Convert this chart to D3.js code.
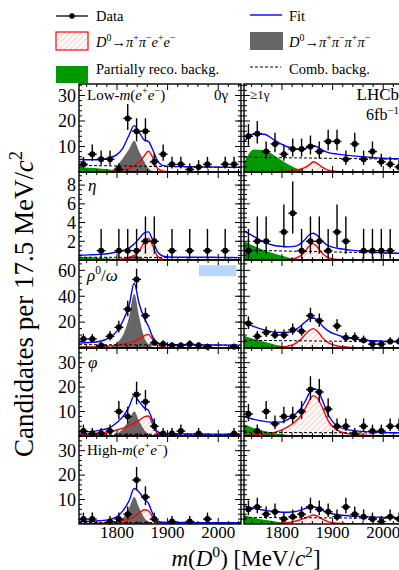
<!DOCTYPE html>
<html><head><meta charset="utf-8">
<script src="https://cdn.jsdelivr.net/npm/d3@7"></script>
<style>
body{margin:0;background:#fff;}
svg{display:block;}
text{font-family:"Liberation Serif","Times New Roman","DejaVu Serif",serif;fill:#000;}
</style>
</head><body>
<svg id="c" width="399" height="570"></svg>
<script>
// ---------- DATA ----------
const binCenters = [1733.75,1751.25,1768.75,1786.25,1803.75,1821.25,1838.75,1856.25,1873.75,1891.25,1908.75,1926.25,1943.75,1961.25,1978.75,1996.25,2013.75,2031.25];
const binHalfWidth = 8.75;
const xTickLabels = [1800, 1900, 2000];

// data counts per bin (null = empty bin)
const dataLow0g  = [3,7,5,5,1,21,16,16,4,7,3,3,1,2,3,null,3,3];
const dataLow1g  = [14,15,8,11,7,9,9,10,8,12,12,5,11,5,8,4,3,2];
const dataEta0g  = [null,null,1,null,1,1,1,2,2,null,1,null,1,null,1,null,1,null];
const dataEta1g  = [1,2,2,null,3,5,1,2,2,1,3,2,null,1,1,1,1,null];
const dataRho0g  = [7,7,2,9,16,30,53,25,4,3,2,2,3,2,1,null,null,1];
const dataRho1g  = [19,9,12,10,10,14,13,25,21,null,17,8,8,6,3,3,5,5];
const dataPhi0g  = [2,1,1,2,10,8,17,14,4,1,1,2,null,1,null,null,null,1];
const dataPhi1g  = [9,2,10,5,8,8,10,19,18,11,4,4,1,4,2,2,4,4];
const dataHigh0g = [2,2,null,1,2,4,18,11,2,null,1,null,1,null,2,null,null,null];
const dataHigh1g = [6,7,4,5,2,3,4,7,6,5,3,7,4,3,2,1,3,2];

// fit curves sampled at fitX
const fitX  = [1725,1745,1765,1785,1800,1812,1824,1834,1844,1854,1862,1870,1880,1892,1910,1935,1965,2000,2045];
const combX = [1725,2045];

const blueLow0g  = [5.0,4.8,4.8,5.6,6.8,9.5,14.5,18.2,15.5,12.5,12.0,9.0,4.5,2.5,2.2,2.1,2.0,1.9,1.8];
const redLow0g   = [0,0,0.05,0.15,0.4,0.8,1.4,2.3,3.8,6.3,8.2,6.0,1.5,0.3,0,0,0,0,0];
const greyLow0g  = [0,0,0,0.2,2.5,5.5,9,12.3,8,4,1.5,0.4,0,0,0,0,0,0,0];
const greenLow0g = [2.0,1.7,1.4,1.0,0.6,0.35,0.15,0.05,0,0,0,0,0,0,0,0,0,0,0];
const combLow0g  = [2.6,1.7];

const blueLow1g  = [12,15,14.8,12.5,10.8,9.8,9.2,8.8,9.0,10,10.3,9.8,8.6,7.6,7,6.4,5.9,5.4,5.1];
const redLow1g   = [0,0,0,0,0.1,0.3,0.6,1.0,1.6,2.8,4.0,3.3,1.8,0.7,0.2,0,0,0,0];
const greenLow1g = [3.8,8.8,8.5,6.5,4.5,3,1.8,1,0.5,0.2,0.05,0,0,0,0,0,0,0,0];
const combLow1g  = [5.8,5.0];

const blueEta0g  = [0.5,0.55,0.6,0.7,0.85,1.0,1.3,1.7,2.3,2.9,3.0,2.2,0.9,0.4,0.3,0.3,0.3,0.28,0.25];
const redEta0g   = [0,0,0,0.02,0.05,0.1,0.25,0.5,1.0,1.9,2.3,1.6,0.4,0.05,0,0,0,0,0];
const greyEta0g  = [0,0,0,0,0.05,0.15,0.35,0.5,0.35,0.15,0.05,0,0,0,0,0,0,0,0];
const greenEta0g = [0.35,0.3,0.22,0.15,0.08,0.04,0,0,0,0,0,0,0,0,0,0,0,0,0];
const combEta0g  = [0.3,0.25];

const blueEta1g  = [3.1,2.5,1.9,1.55,1.45,1.4,1.45,1.65,2.1,2.7,2.85,2.6,2.0,1.5,1.25,1.05,0.9,0.78,0.7];
const redEta1g   = [0,0,0,0,0.02,0.05,0.15,0.35,0.8,1.5,1.75,1.4,0.7,0.25,0.05,0,0,0,0];
const greenEta1g = [2.0,1.5,1.05,0.7,0.45,0.28,0.15,0.07,0.02,0,0,0,0,0,0,0,0,0,0];
const combEta1g  = [1.05,0.7];

const blueRho0g  = [3.8,4.2,5,8,13,21,33,50,34,23,17,9,4,2.8,2.6,2.5,2.4,2.3,2.2];
const redRho0g   = [0.5,0.8,1.1,1.6,2.2,3,4,5.2,7,9.5,10.5,7,2.5,0.7,0.1,0,0,0,0];
const greyRho0g  = [0,0,0,0.5,4,10,24,42,24,8,3,1,0.2,0,0,0,0,0,0];
const greenRho0g = [1.5,1.1,0.75,0.45,0.25,0.12,0.05,0,0,0,0,0,0,0,0,0,0,0,0];
const combRho0g  = [2.6,2.1];

const blueRho1g  = [19.5,16.5,14,12.3,12,12.2,13.5,16,19.5,22.5,23.2,21.5,17,13,10,7.5,6,5.3,4.9];
const redRho1g   = [0,0,0,0.3,0.8,1.5,3,5.5,9.5,13.5,15,13,8,4,1.5,0.5,0.2,0,0];
const greenRho1g = [9.5,7,4.8,2.8,1.6,0.9,0.4,0.15,0,0,0,0,0,0,0,0,0,0,0];
const combRho1g  = [6.0,4.7];

const bluePhi0g  = [1.6,1.8,2.3,3.3,5.5,8,12,16.5,14,11.5,10.5,6.5,1.8,1,0.9,0.85,0.8,0.75,0.7];
const redPhi0g   = [0.5,0.8,1.2,1.8,2.5,3.2,4.2,5.2,6.5,7.8,8.2,5,1,0.2,0,0,0,0,0];
const greyPhi0g  = [0,0,0,0,1,3,6.5,10,6,2.5,1,0.3,0,0,0,0,0,0,0];
const greenPhi0g = [0.6,0.4,0.2,0.08,0,0,0,0,0,0,0,0,0,0,0,0,0,0,0];
const combPhi0g  = [0.8,0.6];

const bluePhi1g  = [7.9,6.8,6,5.6,5.8,6.8,8.5,10.5,13.5,17.5,19.5,18.8,14.5,8.5,4,2.4,1.8,1.5,1.3];
const redPhi1g   = [0.2,0.4,0.8,1.5,2.5,3.8,5.5,7.5,10.5,14.5,16.5,15.5,11.5,6,2.3,0.8,0.3,0.1,0];
const greenPhi1g = [4.8,3.2,2,1.2,0.7,0.4,0.2,0.05,0,0,0,0,0,0,0,0,0,0,0];
const combPhi1g  = [1.5,1.2];

const blueHigh0g  = [1,1.1,1.3,1.8,3,5.5,9.5,14.5,13,10,8.5,4.5,1.3,0.7,0.6,0.6,0.55,0.5,0.5];
const redHigh0g   = [0.1,0.2,0.3,0.6,1,1.5,2,3,4.5,5.8,5.5,3,0.8,0.1,0,0,0,0,0];
const greyHigh0g  = [0,0,0,0,0.5,2.5,6.5,11,6.5,2.5,1,0.3,0,0,0,0,0,0,0];
const greenHigh0g = [0.4,0.25,0.12,0.05,0,0,0,0,0,0,0,0,0,0,0,0,0,0,0];
const combHigh0g  = [0.6,0.5];

const blueHigh1g  = [7.5,6.4,5.6,5.1,4.8,4.8,5,5.5,6.2,6.9,7.1,6.6,5.6,4.6,3.8,3.3,3,2.7,2.5];
const redHigh1g   = [0,0,0,0.1,0.3,0.6,1,1.6,2.3,3.2,3.7,3.2,2,0.9,0.3,0.1,0,0,0];
const greenHigh1g = [3.7,2.6,1.7,1.1,0.6,0.35,0.15,0.05,0,0,0,0,0,0,0,0,0,0,0];
const combHigh1g  = [2.7,2.3];

// y-axis scale settings per row
const rowYMax   = [34.5, 9.4, 68, 36, 36];
const rowYMajor = [10, 2, 20, 10, 10];
const rowYMinor = [2, 0.5, 5, 2, 2];

// ---------- LAYOUT ----------
const svg = d3.select('#c');
const xDomain = [1725, 2045];
const colX = [[79, 241], [244, 406]];
const rowTop = [84, 172, 260, 348, 436];
const rowH = 88;
const C = {blue:'#0000ff', red:'#ff0000', grey:'#666666', green:'#009900'};

const defs = svg.append('defs');
const pat = defs.append('pattern').attr('id','hatch').attr('patternUnits','userSpaceOnUse')
  .attr('width',4).attr('height',4).attr('patternTransform','rotate(45)');
pat.append('line').attr('x1',0).attr('y1',0).attr('x2',0).attr('y2',4)
  .attr('stroke',C.red).attr('stroke-width',0.8).attr('stroke-opacity',0.55);

function rich(g, x, y, parts, size, anchor, extra) {
  const t = g.append('text').attr('x',x).attr('y',y).attr('font-size',size)
    .attr('text-anchor',anchor||'start');
  if (extra) extra(t);
  let shift = 0;
  parts.forEach(p => {
    const target = p.sup ? -size*0.4 : 0;
    const ts = t.append('tspan').text(p.t).attr('dy', target - shift);
    shift = target;
    if (p.sup) ts.attr('font-size', size*0.68);
    if (p.i) ts.attr('font-style','italic');
  });
  return t;
}

const panels = [
  {row:0,col:0,data:dataLow0g, blue:blueLow0g, red:redLow0g, grey:greyLow0g, green:greenLow0g, comb:combLow0g},
  {row:0,col:1,data:dataLow1g, blue:blueLow1g, red:redLow1g, grey:null, green:greenLow1g, comb:combLow1g},
  {row:1,col:0,data:dataEta0g, blue:blueEta0g, red:redEta0g, grey:greyEta0g, green:greenEta0g, comb:combEta0g},
  {row:1,col:1,data:dataEta1g, blue:blueEta1g, red:redEta1g, grey:null, green:greenEta1g, comb:combEta1g},
  {row:2,col:0,data:dataRho0g, blue:blueRho0g, red:redRho0g, grey:greyRho0g, green:greenRho0g, comb:combRho0g},
  {row:2,col:1,data:dataRho1g, blue:blueRho1g, red:redRho1g, grey:null, green:greenRho1g, comb:combRho1g},
  {row:3,col:0,data:dataPhi0g, blue:bluePhi0g, red:redPhi0g, grey:greyPhi0g, green:greenPhi0g, comb:combPhi0g},
  {row:3,col:1,data:dataPhi1g, blue:bluePhi1g, red:redPhi1g, grey:null, green:greenPhi1g, comb:combPhi1g},
  {row:4,col:0,data:dataHigh0g, blue:blueHigh0g, red:redHigh0g, grey:greyHigh0g, green:greenHigh0g, comb:combHigh0g},
  {row:4,col:1,data:dataHigh1g, blue:blueHigh1g, red:redHigh1g, grey:null, green:greenHigh1g, comb:combHigh1g}
];

const scales = {};
panels.forEach((p, idx) => {
  const [x0, x1] = colX[p.col];
  const y0 = rowTop[p.row], y1 = y0 + rowH;
  const x = d3.scaleLinear().domain(xDomain).range([x0, x1]);
  const y = d3.scaleLinear().domain([0, rowYMax[p.row]]).range([y1, y0]);
  scales[p.row+'_'+p.col] = {x, y};
  defs.append('clipPath').attr('id','clip'+idx).append('rect')
    .attr('x',x0).attr('y',y0).attr('width',x1-x0).attr('height',rowH);
  const g = svg.append('g').attr('clip-path',`url(#clip${idx})`);
  const area = d3.area().x((d,i)=>x(fitX[i])).y0(y(0)).y1(d=>y(d)).curve(d3.curveMonotoneX);
  const line = d3.line().x((d,i)=>x(fitX[i])).y(d=>y(d)).curve(d3.curveMonotoneX);

  g.append('path').attr('d', area(p.green)).attr('fill', C.green);
  if (p.grey) g.append('path').attr('d', area(p.grey)).attr('fill', C.grey);
  g.append('path').attr('d', area(p.red)).attr('fill','url(#hatch)');
  g.append('path').attr('d', line(p.red)).attr('fill','none').attr('stroke',C.red).attr('stroke-width',1.4);
  g.append('path').attr('d', d3.line().x((d,i)=>x(combX[i])).y(d=>y(d))(p.comb))
    .attr('fill','none').attr('stroke','#000').attr('stroke-width',1).attr('stroke-dasharray','3,2');
  g.append('path').attr('d', line(p.blue)).attr('fill','none').attr('stroke',C.blue).attr('stroke-width',1.4);

  // data points with Poisson (Garwood-approx) error bars
  const pts = p.data.map((n,i)=>({n, c:binCenters[i]})).filter(d=>d.n!==null);
  const dg = svg.append('g');
  pts.forEach(d => {
    const lo = d.n - Math.sqrt(d.n - 0.25), hi = d.n + 1 + Math.sqrt(d.n + 0.75);
    dg.append('line').attr('x1',x(d.c)).attr('x2',x(d.c)).attr('y1',y(lo)).attr('y2',y(hi))
      .attr('stroke','#000').attr('stroke-width',1.4);
    dg.append('line').attr('x1',x(d.c-binHalfWidth)).attr('x2',x(d.c+binHalfWidth)).attr('y1',y(d.n)).attr('y2',y(d.n))
      .attr('stroke','#000').attr('stroke-width',1.4);
    dg.append('circle').attr('cx',x(d.c)).attr('cy',y(d.n)).attr('r',3).attr('fill','#000');
  });

  // frame and ticks
  const fg = svg.append('g').attr('stroke','#000').attr('fill','none');
  fg.append('rect').attr('x',x0).attr('y',y0).attr('width',x1-x0).attr('height',rowH).attr('stroke-width',1.4);
  const xMinor = d3.range(1740, 2045, 20), xMajor = d3.range(1800, 2045, 100);
  xMinor.forEach(v => {
    const len = xMajor.includes(v) ? 6 : 3;
    fg.append('line').attr('x1',x(v)).attr('x2',x(v)).attr('y1',y1).attr('y2',y1-len).attr('stroke-width',1);
    fg.append('line').attr('x1',x(v)).attr('x2',x(v)).attr('y1',y0).attr('y2',y0+len).attr('stroke-width',1);
  });
  const ymax = rowYMax[p.row], ymaj = rowYMajor[p.row], ymin = rowYMinor[p.row];
  d3.range(ymin, ymax, ymin).forEach(v => {
    const isMaj = Math.abs(v/ymaj - Math.round(v/ymaj)) < 1e-6;
    const len = isMaj ? 6 : 3;
    fg.append('line').attr('x1',x0 - (p.col===1 ? len : 0)).attr('x2',x0+len).attr('y1',y(v)).attr('y2',y(v)).attr('stroke-width',1);
    fg.append('line').attr('x1',x1).attr('x2',x1-len).attr('y1',y(v)).attr('y2',y(v)).attr('stroke-width',1);
  });
  if (p.col === 0) {
    d3.range(ymaj, ymax, ymaj).forEach(v => {
      svg.append('text').attr('x', x0-3).attr('y', y(v)).attr('dy','0.35em')
        .attr('text-anchor','end').attr('font-size',18).text(v);
    });
  }
  if (p.row === 4) {
    xTickLabels.forEach(v => {
      svg.append('text').attr('x', x(v)).attr('y', 538).attr('text-anchor','middle')
        .attr('font-size',17).text(v);
    });
  }
});

// light-blue box in rho/omega 0γ panel
{
  const s = scales['2_0'];
  svg.append('rect').attr('x', s.x(1962)).attr('y', s.y(64)).attr('width', s.x(2036)-s.x(1962))
    .attr('height', s.y(55.5)-s.y(64)).attr('fill','#b4d7fb');
}

// panel labels
rich(svg, 87, 100, [{t:'Low-'},{t:'m',i:1},{t:'('},{t:'e',i:1},{t:'+',sup:1},{t:'e',i:1},{t:'−',sup:1},{t:')'}], 15);
svg.append('text').attr('x',214).attr('y',100).attr('font-size',15).text('0γ');
svg.append('text').attr('x',250).attr('y',99).attr('font-size',13).text('≥1γ');
svg.append('text').attr('x',399).attr('y',100).attr('font-size',17).attr('text-anchor','end').text('LHCb');
rich(svg, 399, 120, [{t:'6fb'},{t:'−1',sup:1}], 16, 'end');
svg.append('text').attr('x',88).attr('y',191).attr('font-size',17).attr('font-style','italic').text('η');
rich(svg, 87, 281, [{t:'ρ',i:1},{t:'0',sup:1},{t:'/'},{t:'ω',i:1}], 17);
svg.append('text').attr('x',88).attr('y',368).attr('font-size',17).attr('font-style','italic').text('φ');
rich(svg, 87, 455, [{t:'High-'},{t:'m',i:1},{t:'('},{t:'e',i:1},{t:'+',sup:1},{t:'e',i:1},{t:'−',sup:1},{t:')'}], 15);

// axis titles
rich(svg, 246, 566, [{t:'m',i:1},{t:'('},{t:'D',i:1},{t:'0',sup:1},{t:') [MeV/'},{t:'c',i:1},{t:'2',sup:1},{t:']'}], 23, 'middle');
rich(svg, 0, 0, [{t:'Candidates per 17.5 MeV/'},{t:'c',i:1},{t:'2',sup:1}], 27, 'middle',
  t => t.attr('transform','translate(33,304) rotate(-90)'));

// legend
const lg = svg.append('g');
lg.append('line').attr('x1',56).attr('x2',88).attr('y1',16).attr('y2',16).attr('stroke','#000').attr('stroke-width',1.3);
lg.append('circle').attr('cx',72).attr('cy',16).attr('r',2.8).attr('fill','#000');
lg.append('text').attr('x',96).attr('y',21).attr('font-size',14.5).text('Data');
lg.append('line').attr('x1',250).attr('x2',282).attr('y1',15).attr('y2',15).attr('stroke',C.blue).attr('stroke-width',1.4);
lg.append('text').attr('x',289).attr('y',21).attr('font-size',14.5).text('Fit');
lg.append('rect').attr('x',56).attr('y',32).attr('width',32).attr('height',18).attr('fill','url(#hatch)').attr('stroke',C.red).attr('stroke-width',1.2);
rich(lg, 96, 47, [{t:'D',i:1},{t:'0',sup:1},{t:'→'},{t:'π',i:1},{t:'+',sup:1},{t:'π',i:1},{t:'−',sup:1},{t:'e',i:1},{t:'+',sup:1},{t:'e',i:1},{t:'−',sup:1}], 14.5);
lg.append('rect').attr('x',250).attr('y',32).attr('width',33).attr('height',18).attr('fill',C.grey);
rich(lg, 289, 47, [{t:'D',i:1},{t:'0',sup:1},{t:'→'},{t:'π',i:1},{t:'+',sup:1},{t:'π',i:1},{t:'−',sup:1},{t:'π',i:1},{t:'+',sup:1},{t:'π',i:1},{t:'−',sup:1}], 14.5);
lg.append('rect').attr('x',56).attr('y',66).attr('width',32).attr('height',17).attr('fill',C.green);
lg.append('text').attr('x',96).attr('y',74).attr('font-size',14.5).text('Partially reco. backg.');
lg.append('line').attr('x1',250).attr('x2',281).attr('y1',67).attr('y2',67).attr('stroke','#000').attr('stroke-width',1).attr('stroke-dasharray','3,2');
lg.append('text').attr('x',289).attr('y',74).attr('font-size',14.5).text('Comb. backg.');
</script>
</body></html>
